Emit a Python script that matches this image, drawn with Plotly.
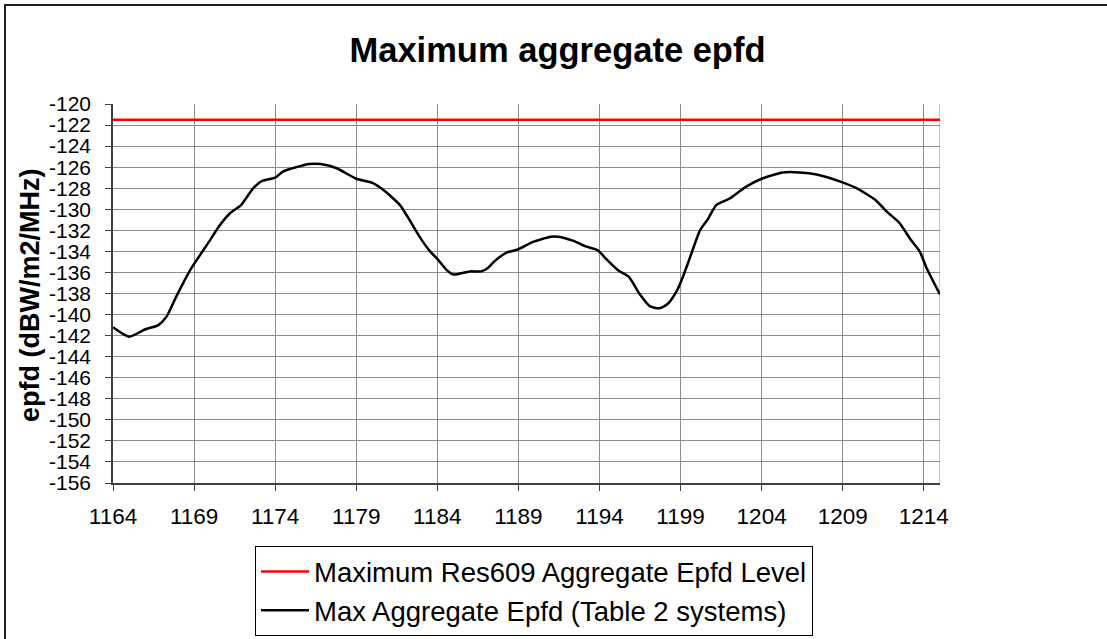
import plotly.graph_objects as go

# Data
freq_mhz = [1164, 1165, 1166, 1166.8, 1167.3, 1167.9, 1168.75, 1170, 1170.5, 1171.2,
            1171.9, 1172.65, 1173.2, 1174, 1174.5, 1175.3, 1176.1, 1176.8, 1177.8, 1179,
            1180, 1180.7, 1181.7, 1182.2, 1182.9, 1183.5, 1184.05, 1184.6, 1185, 1186,
            1186.7, 1187.1, 1187.55, 1188.3, 1189, 1189.9, 1191, 1191.45, 1192.4, 1193.1,
            1193.9, 1194.4, 1195.15, 1195.8, 1196.5, 1197.1, 1197.7, 1198.2, 1198.75, 1199.15,
            1199.6, 1200.2, 1200.7, 1201.2, 1202, 1203, 1204, 1205.3, 1206.35, 1207.4,
            1208.9, 1209.85, 1211, 1211.7, 1212.5, 1213.2, 1213.75, 1214.15, 1215]
max_aggregate_epfd = [-141.2, -142.1, -141.4, -141.0, -140.2, -138.3, -135.8, -132.9, -131.7, -130.4,
                      -129.6, -128.0, -127.3, -127.0, -126.4, -126.0, -125.7, -125.7, -126.1, -127.1,
                      -127.5, -128.2, -129.6, -130.8, -132.6, -133.9, -134.8, -135.8, -136.2, -135.9,
                      -135.9, -135.6, -134.9, -134.1, -133.8, -133.1, -132.6, -132.6, -133.0, -133.5,
                      -133.9, -134.7, -135.8, -136.4, -138.1, -139.2, -139.4, -139.0, -137.8, -136.4,
                      -134.5, -132.0, -130.9, -129.6, -129.0, -127.9, -127.1, -126.5, -126.5, -126.7,
                      -127.4, -128.0, -129.1, -130.2, -131.3, -132.9, -134.0, -135.5, -138.1]
limit_freq = [1164, 1215]
limit_level = [-121.5, -121.5]

x_tick_vals = [1164, 1169, 1174, 1179, 1184, 1189, 1194, 1199, 1204, 1209, 1214]
y_tick_vals = [-120, -122, -124, -126, -128, -130, -132, -134, -136, -138, -140, -142,
               -144, -146, -148, -150, -152, -154, -156]
y_tick_text = [str(v) for v in y_tick_vals]

FONT = "Arial, Liberation Sans, sans-serif"

# Layout geometry (pixels)
W, H = 1107, 639
L, R, T, B = 113, 940, 104, 483


def px(xp):
    return (xp - L) / (R - L)


def py(yp):
    return (B - yp) / (B - T)


fig = go.Figure()
fig.add_trace(go.Scatter(x=limit_freq, y=limit_level, mode="lines",
                         name="Maximum Res609 Aggregate Epfd Level",
                         line=dict(color="#ff0000", width=2.5)))
fig.add_trace(go.Scatter(x=freq_mhz, y=max_aggregate_epfd, mode="lines",
                         name="Max Aggregate Epfd (Table 2 systems)",
                         line=dict(color="#000000", width=2.5, shape="spline", smoothing=0.6)))

fig.update_layout(
    width=W, height=H,
    margin=dict(l=L, r=W - R, t=T, b=H - B, pad=0, autoexpand=False),
    paper_bgcolor="white", plot_bgcolor="white",
    font=dict(family=FONT, color="black"),
    title=dict(text="<b>Maximum aggregate epfd</b>", font=dict(size=34.5, family=FONT, color="black"),
               x=557.5 / W, xanchor="center", y=1 - 50 / H, yanchor="middle",
               xref="container", yref="container"),
    showlegend=True,
    legend=dict(x=px(255), y=py(546), xanchor="left", yanchor="top",
                bgcolor="white", bordercolor="black", borderwidth=1,
                font=dict(size=27.5, family=FONT, color="black"),
                itemwidth=48, tracegroupgap=0),
    xaxis=dict(range=[1164, 1215], tickmode="array", tickvals=x_tick_vals,
               showgrid=True, gridcolor="#8c8c8c", gridwidth=1,
               showline=True, linecolor="#404040", linewidth=1.5,
               ticks="outside", ticklen=6, tickcolor="#404040",
               ticklabelstandoff=6,
               tickfont=dict(size=22.5, family=FONT, color="black"),
               zeroline=False, automargin=False),
    yaxis=dict(range=[-156, -120], tickmode="array", tickvals=y_tick_vals, ticktext=y_tick_text,
               showgrid=True, gridcolor="#8c8c8c", gridwidth=1,
               showline=True, linecolor="#404040", linewidth=1.5,
               ticks="outside", ticklen=6, tickcolor="#404040",
               ticklabelstandoff=10,
               tickfont=dict(size=21, family=FONT, color="black"),
               zeroline=False, automargin=False),
    annotations=[
        dict(text="<b>epfd (dBW/m2/MHz)</b>", xref="paper", yref="paper",
             x=px(30), y=py(296), xanchor="center", yanchor="middle", textangle=-90,
             showarrow=False, font=dict(size=27, family=FONT, color="black")),
    ],
    shapes=[
        dict(type="line", xref="x", yref="y", x0=1215, x1=1215, y0=-156, y1=-120,
             line=dict(color="#8c8c8c", width=1), layer="below"),
        dict(type="rect", xref="paper", yref="paper", x0=px(5), x1=px(1112), y0=py(5), y1=py(645),
             line=dict(color="#202020", width=2), fillcolor="rgba(0,0,0,0)"),
    ],
)

fig.write_html("out.html", config={"displayModeBar": False},
               post_script="document.body.style.margin='0';")
